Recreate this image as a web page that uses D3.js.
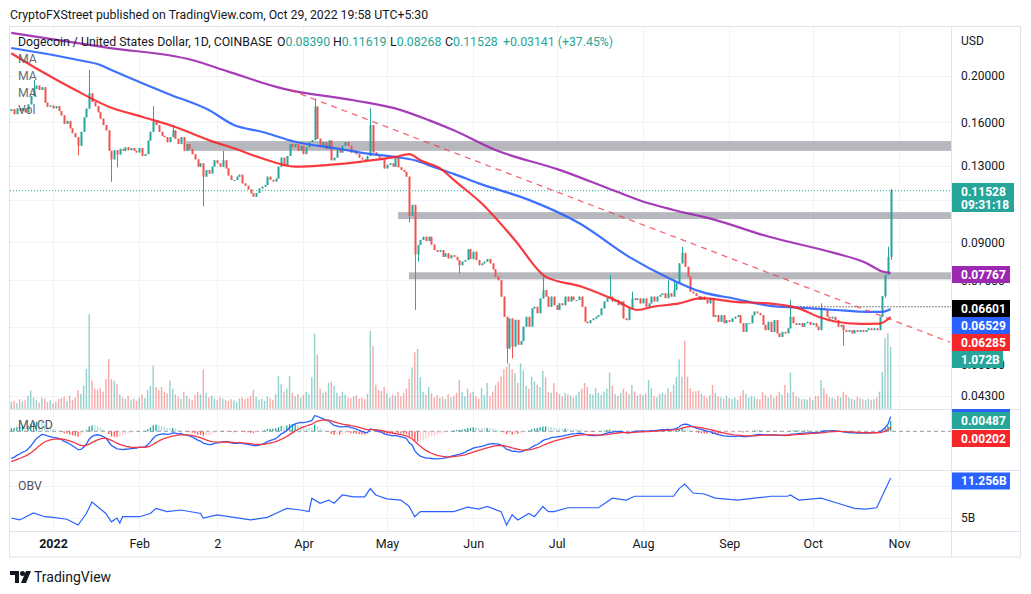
<!DOCTYPE html>
<html>
<head>
<meta charset="utf-8">
<script src="https://cdn.jsdelivr.net/npm/d3@7"></script>
<style>
  body { margin: 0; background: #fff; }
  svg text { font-family: Roboto, "Open Sans", sans-serif; }
</style>
</head>
<body>
<svg width="1031" height="594"></svg>
<script>
// ---- data (days are counted from 1 Jan 2022, negative = Dec 2021) ----
var firstDay = -15;
var firstOpen = 0.1690;
var closes = [
  0.1705,0.1665,0.1712,0.1690,0.1715,0.1680,0.1745,0.1815,0.1880,0.1910,0.1870,0.1895,0.1760,0.1725,0.1735,
  0.1712,0.1730,0.1690,0.1655,0.1590,0.1612,0.1555,0.1520,0.1490,0.1430,
  0.1530,0.1640,0.1710,0.1840,0.1765,0.1730,0.1680,0.1630,0.1580,0.1540,
  0.1396,0.1340,0.1400,0.1372,0.1410,0.1396,0.1420,0.1400,0.1415,0.1396,
  0.1385,0.1415,0.1362,0.1374,0.1467,0.1530,0.1605,0.1580,0.1530,0.1500,
  0.1491,0.1455,0.1491,0.1540,0.1480,0.1442,0.1491,0.1396,0.1442,0.1408,
  0.1374,0.1340,0.1294,0.1315,0.1233,0.1273,0.1252,0.1294,0.1334,0.1315,
  0.1294,0.1334,0.1283,0.1240,0.1214,0.1214,0.1233,0.1245,0.1194,0.1180,
  0.1160,0.1138,0.1120,0.1140,0.1165,0.1175,0.1185,0.1233,0.1214,0.1205,
  0.1222,0.1294,0.1351,0.1300,0.1362,0.1442,0.1420,0.1442,0.1396,0.1430,
  0.1374,0.1420,0.1455,0.1470,0.1727,0.1480,0.1430,0.1455,0.1408,0.1467,
  0.1334,0.1351,0.1408,0.1385,0.1430,0.1455,0.1430,0.1385,0.1396,0.1374,
  0.1351,0.1340,0.1334,0.1362,0.1580,0.1385,0.1362,0.1351,0.1340,0.1283,
  0.1305,0.1315,0.1294,0.1351,0.1290,0.1273,0.1262,0.1233,0.1022,0.1077,
  0.0849,0.0888,0.0910,0.0924,0.0905,0.0924,0.0890,0.0867,0.0860,0.0867,
  0.0839,0.0853,0.0833,0.0845,0.0839,0.0826,0.0806,0.0820,0.0826,0.0870,
  0.0830,0.0860,0.0826,0.0806,0.0813,0.0820,0.0830,0.0813,0.0790,0.0763,
  0.0750,0.0693,0.0629,0.0540,0.0624,0.0545,0.0620,0.0550,0.0560,0.0600,
  0.0629,0.0600,0.0655,0.0660,0.0640,0.0687,0.0715,0.0693,0.0660,0.0693,
  0.0665,0.0650,0.0671,0.0665,0.0693,0.0677,0.0693,0.0682,0.0682,0.0693,
  0.0660,0.0614,0.0610,0.0619,0.0624,0.0629,0.0634,0.0655,0.0677,0.0688,
  0.0693,0.0677,0.0682,0.0665,0.0677,0.0624,0.0619,0.0655,0.0687,0.0682,
  0.0687,0.0671,0.0687,0.0660,0.0671,0.0693,0.0677,0.0693,0.0699,0.0704,
  0.0688,0.0704,0.0693,0.0715,0.0739,0.0813,0.0855,0.0800,0.0763,0.0710,
  0.0704,0.0695,0.0682,0.0693,0.0682,0.0671,0.0688,0.0629,0.0634,0.0614,
  0.0634,0.0610,0.0619,0.0614,0.0624,0.0629,0.0634,0.0610,0.0585,0.0610,
  0.0610,0.0634,0.0645,0.0640,0.0634,0.0605,0.0590,0.0614,0.0585,0.0619,
  0.0581,0.0571,0.0585,0.0581,0.0595,0.0629,0.0610,0.0605,0.0610,0.0600,
  0.0610,0.0614,0.0605,0.0610,0.0600,0.0590,0.0655,0.0650,0.0629,0.0624,
  0.0629,0.0619,0.0600,0.0605,0.0590,0.0585,0.0590,0.0581,0.0590,0.0585,
  0.0590,0.0585,0.0590,0.0595,0.0590,0.0595,0.0590,0.0629,0.0695,0.0770,0.0839,0.11528
];
// volume in millions of DOGE-USD
var volumes = [
  120,140,100,170,130,150,230,320,200,150,110,200,180,120,150,
  100,130,170,190,210,140,230,160,200,330,
  260,400,690,1640,490,350,330,360,300,520,
  865,520,490,430,250,200,170,230,150,180,
  140,200,250,190,330,400,750,380,330,380,
  300,270,490,350,250,210,180,300,230,180,
  160,240,300,250,680,280,200,230,170,150,
  200,180,160,140,170,150,120,180,200,170,
  190,230,330,210,160,180,140,220,190,160,
  260,570,430,300,350,570,280,220,260,200,
  240,300,250,550,1300,940,350,280,300,450,
  470,400,280,230,300,250,200,190,220,240,
  180,200,170,260,1350,1090,420,330,310,380,
  270,200,250,230,300,220,280,350,520,720,
  980,1040,550,300,250,380,270,200,240,190,
  210,170,260,200,230,280,500,300,220,350,
  270,300,220,180,360,240,450,230,300,415,
  470,560,690,730,790,690,620,450,790,670,
  400,350,560,480,420,380,660,550,300,280,
  450,300,260,220,280,250,230,200,240,300,
  350,450,380,260,250,360,280,240,300,350,
  630,400,260,230,280,350,300,260,415,300,
  230,260,240,270,500,360,230,200,260,280,
  250,360,300,420,550,860,560,1180,560,360,
  300,310,320,260,230,200,240,415,280,220,
  200,180,230,190,170,200,160,230,330,260,
  200,230,210,180,170,290,240,200,250,190,
  230,300,250,415,280,630,300,220,200,170,
  180,160,200,150,230,220,500,360,260,200,
  190,170,230,200,300,250,200,180,160,210,
  190,170,150,180,160,170,200,300,640,1230,1315,1072
];
// visible shadows: [day, high, low]
var wicks = [
  [-7,0.1960,null],[9,null,0.1367],[13,0.2060,null],[21,null,0.1203],[23,null,0.1290],
  [36,0.1730,null],[43,0.1580,null],[54,null,0.1069],[61,0.1396,null],[94,0.1795,null],
  [114,0.1713,null],[128,null,0.0990],[130,null,0.0650],[131,null,0.0820],[146,null,0.0775],
  [163,null,0.0503],[165,null,0.0515],[176,0.0769,null],[200,0.0769,null],[208,0.0710,null],
  [221,0.0750,null],[223,0.0752,null],[226,0.0881,null],[265,0.0682,null],[276,0.0671,null],
  [284,null,0.0548],[299,null,0.0690],[300,0.0881,null],[301,0.11619,0.08268]
];

// moving averages
var maRedDays = [-15,-5,8,20,32,44,56,65,75,87,99,111,123,128,132,140,144,154,166,177,190,202,210,216,225,233,245,257,269,275,281,290,297,301];
var maRedVals = [0.2231,0.2058,0.1870,0.1726,0.1644,0.1566,0.1470,0.1413,0.1347,0.1294,0.1305,0.1326,0.1356,0.1374,0.1334,0.1273,0.1214,0.1085,0.0909,0.0763,0.0727,0.0682,0.0650,0.0661,0.0671,0.0688,0.0676,0.0671,0.0652,0.0629,0.0615,0.0608,0.0609,0.06285];
var maBlueDays = [-15,9,17,21,41,56,65,75,87,102,113,123,130,137,144,153,171,189,207,221,233,245,257,269,281,293,298,301];
var maBlueVals = [0.2288,0.2160,0.2108,0.2058,0.1839,0.1698,0.1581,0.1530,0.1458,0.1412,0.1378,0.1356,0.1334,0.1291,0.1250,0.1194,0.1103,0.0987,0.0839,0.0759,0.0709,0.0686,0.0664,0.0657,0.0650,0.0644,0.0644,0.06529];
var maPurpleDays = [-15,20,50,63,83,108,125,135,144,159,182,202,214,223,236,257,281,292,298,301];
var maPurpleVals = [0.2460,0.2290,0.2160,0.2042,0.1880,0.1780,0.1698,0.1618,0.1541,0.1402,0.1274,0.1151,0.1085,0.1051,0.1009,0.0925,0.0854,0.0816,0.0782,0.07767];

// OBV in billions
var obvDays = [-15,-12,-7,-3,0,5,9,12,14,19,21,23,24,25,31,35,37,41,46,53,54,59,65,71,77,80,84,89,92,93,96,99,101,104,108,112,114,116,120,125,128,130,132,137,144,149,153,156,161,163,165,167,169,171,173,176,178,180,185,191,196,201,206,209,215,223,225,227,230,234,238,246,252,258,264,265,268,276,282,288,292,296,301];
var obvVals = [5.0,4.7,5.8,5.2,5.1,4.8,3.9,5.7,7.5,5.7,4.4,5.0,4.2,5.2,5.2,5.7,6.5,6.0,6.25,5.7,5.0,5.5,5.1,4.7,5.1,5.7,6.5,6.25,6.0,8.1,7.3,7.8,7.3,8.6,8.3,8.3,9.6,8.6,8.0,7.8,6.8,5.2,6.0,6.0,6.0,6.7,6.4,6.8,6.0,3.9,5.5,4.7,5.2,5.7,5.2,6.8,6.0,6.0,6.6,6.6,6.6,8.1,7.8,8.4,8.4,8.4,9.6,10.3,8.9,8.75,8.1,7.8,8.1,8.4,8.4,8.6,7.8,8.1,7.3,6.5,6.4,6.6,11.256];

// MACD seed (EMA12, EMA26, signal) at the first bar
var macdSeed = [0.1726, 0.1860, -0.0144];

// drawings
var bands = [[47.8, 0.1396, 0.1463], [124, 0.1006, 0.1040], [127.9, 0.0753, 0.0779]];
var trend = [[85.2, 0.187], [322.3, 0.0557]];

var priceTicks = [0.2, 0.16, 0.13, 0.11, 0.09, 0.075, 0.06, 0.05, 0.043];
var priceLabels = [0.2, 0.16, 0.13, 0.09, 0.075, 0.05, 0.043];
var monthDays = [0, 31, 59, 90, 120, 151, 181, 212, 243, 273, 304];
var monthLabels = ["2022", "Feb", "2", "Apr", "May", "Jun", "Jul", "Aug", "Sep", "Oct", "Nov"];

// ---- layout ----
var svg = d3.select("svg");
var L = 10, R = 951, mainTop = 27, mainBot = 409, macdBot = 470, obvBot = 531, frameBot = 557;
var day0 = Date.UTC(2022, 0, 1);
function dayDate(d) { return new Date(day0 + d * 864e5); }

var x = d3.scaleUtc().domain([dayDate(0), dayDate(304)]).range([53, 899]);
var y = d3.scaleLog().domain([0.043, 0.2]).range([396, 76]);
var yVol = d3.scaleLinear().domain([0, 1000]).range([409, 351.2]);
var yMacd = d3.scaleLinear().domain([0, 0.01]).range([431.3, 409.8]);
var yObv = d3.scaleLinear().domain([5, 10]).range([518, 486]);

var up = "#26a69a", down = "#ef5350";

var defs = svg.append("defs");
defs.append("clipPath").attr("id", "cMain").append("rect").attr("x", L).attr("y", mainTop).attr("width", R - L).attr("height", mainBot - mainTop);
defs.append("clipPath").attr("id", "cMacd").append("rect").attr("x", L).attr("y", mainBot).attr("width", R - L).attr("height", macdBot - mainBot);

// title
svg.append("text").attr("x", 10).attr("y", 18.5).attr("font-size", 12.3).attr("fill", "#131722")
  .text("CryptoFXStreet published on TradingView.com, Oct 29, 2022 19:58 UTC+5:30");

// frame
svg.append("rect").attr("x", 9.5).attr("y", 26.5).attr("width", 1011).attr("height", frameBot - 26.5)
  .attr("fill", "#fff").attr("stroke", "#e0e3eb");

// grid
var grid = svg.append("g").attr("stroke", "#f0f3fa").attr("stroke-width", 1);
monthDays.forEach(function(d) {
  var gx = Math.round(x(dayDate(d))) + 0.5;
  grid.append("line").attr("x1", gx).attr("x2", gx).attr("y1", mainTop).attr("y2", obvBot);
});
priceTicks.forEach(function(p) {
  var gy = Math.round(y(p)) + 0.5;
  grid.append("line").attr("x1", L).attr("x2", R).attr("y1", gy).attr("y2", gy);
});
[10, 5].forEach(function(v) {
  var gy = Math.round(yObv(v)) + 0.5;
  grid.append("line").attr("x1", L).attr("x2", R).attr("y1", gy).attr("y2", gy);
});

// pane separators
var sep = svg.append("g").attr("stroke", "#e0e3eb");
[mainBot, macdBot, obvBot].forEach(function(s) {
  sep.append("line").attr("x1", L).attr("x2", 1020).attr("y1", s + 0.5).attr("y2", s + 0.5);
});
sep.append("line").attr("x1", R + 0.5).attr("x2", R + 0.5).attr("y1", mainTop).attr("y2", frameBot);

// candles
var candles = closes.map(function(c, i) {
  var o = i ? closes[i - 1] : firstOpen;
  return { d: i + firstDay, o: o, c: c, h: Math.max(o, c), l: Math.min(o, c), v: volumes[i] };
});
wicks.forEach(function(w) {
  var k = candles[w[0] - firstDay];
  if (w[1] != null) k.h = Math.max(k.h, w[1]);
  if (w[2] != null) k.l = Math.min(k.l, w[2]);
});

var main = svg.append("g").attr("clip-path", "url(#cMain)");

// volume
main.append("g").selectAll("rect").data(candles).enter().append("rect")
  .attr("x", function(k) { return x(dayDate(k.d)) - 0.7; })
  .attr("width", 1.4)
  .attr("y", function(k) { return yVol(k.v); })
  .attr("height", function(k) { return yVol(0) - yVol(k.v); })
  .attr("fill", function(k) { return k.c >= k.o ? up : down; })
  .attr("opacity", 0.5);

// zones
main.append("g").selectAll("rect").data(bands).enter().append("rect")
  .attr("x", function(b) { return x(dayDate(b[0])); })
  .attr("width", function(b) { return R - x(dayDate(b[0])); })
  .attr("y", function(b) { return y(b[2]); })
  .attr("height", function(b) { return y(b[1]) - y(b[2]); })
  .attr("fill", "#b7b8be");

// last price line and horizontal ray
main.append("line").attr("x1", L).attr("x2", R).attr("y1", y(0.11528)).attr("y2", y(0.11528))
  .attr("stroke", up).attr("stroke-dasharray", "1,2");
main.append("line").attr("x1", x(dayDate(268.6))).attr("x2", R).attr("y1", y(0.06601)).attr("y2", y(0.06601))
  .attr("stroke", "#000").attr("stroke-dasharray", "1,2");

var cg = main.append("g");
cg.selectAll("line").data(candles).enter().append("line")
  .attr("x1", function(k) { return Math.round(x(dayDate(k.d))) + 0.5; })
  .attr("x2", function(k) { return Math.round(x(dayDate(k.d))) + 0.5; })
  .attr("y1", function(k) { return y(k.h); })
  .attr("y2", function(k) { return y(k.l); })
  .attr("stroke", function(k) { return k.c >= k.o ? up : down; });
cg.selectAll("rect").data(candles).enter().append("rect")
  .attr("x", function(k) { return Math.round(x(dayDate(k.d))) - 0.5; })
  .attr("width", 2)
  .attr("y", function(k) { return y(Math.max(k.o, k.c)); })
  .attr("height", function(k) { return Math.max(1, Math.abs(y(k.o) - y(k.c))); })
  .attr("fill", function(k) { return k.c >= k.o ? up : down; });

// moving averages
function maLine(days, vals, color) {
  var pts = days.map(function(d, i) { return [x(dayDate(d)), y(vals[i])]; });
  main.append("path").attr("d", d3.line().curve(d3.curveMonotoneX)(pts))
    .attr("fill", "none").attr("stroke", color).attr("stroke-width", 2.2).attr("stroke-opacity", 0.9);
}
maLine(maPurpleDays, maPurpleVals, "#9c27b0");
maLine(maBlueDays, maBlueVals, "#2962ff");
maLine(maRedDays, maRedVals, "#f7262b");

// trend line
main.append("line")
  .attr("x1", x(dayDate(trend[0][0]))).attr("y1", y(trend[0][1]))
  .attr("x2", x(dayDate(trend[1][0]))).attr("y2", y(trend[1][1]))
  .attr("stroke", "#f23645").attr("stroke-width", 1.3).attr("stroke-dasharray", "6,5").attr("opacity", 0.75);

// MACD (12, 26, 9) from the closes
var k12 = 2 / 13, k26 = 2 / 27, k9 = 2 / 10;
var e12 = macdSeed[0], e26 = macdSeed[1], sig = macdSeed[2];
var macd = candles.map(function(k) {
  e12 = k.c * k12 + e12 * (1 - k12);
  e26 = k.c * k26 + e26 * (1 - k26);
  var m = e12 - e26;
  sig = m * k9 + sig * (1 - k9);
  return { d: k.d, m: m, s: sig, h: m - sig };
});
var mg = svg.append("g").attr("clip-path", "url(#cMacd)");
mg.append("line").attr("x1", L).attr("x2", R).attr("y1", yMacd(0)).attr("y2", yMacd(0))
  .attr("stroke", "#9598a1").attr("stroke-dasharray", "4,3");
mg.selectAll("rect").data(macd).enter().append("rect")
  .attr("x", function(p) { return x(dayDate(p.d)) - 0.6; })
  .attr("width", 1.3)
  .attr("y", function(p) { return Math.min(yMacd(p.h), yMacd(0)); })
  .attr("height", function(p) { return Math.abs(yMacd(p.h) - yMacd(0)); })
  .attr("fill", function(p, i) {
    var prev = i ? macd[i - 1].h : p.h;
    if (p.h >= 0) return p.h >= prev ? "#26a69a" : "#b2dfdb";
    return p.h < prev ? "#ff5252" : "#ffcdd2";
  });
mg.append("path").datum(macd)
  .attr("d", d3.line().x(function(p) { return x(dayDate(p.d)); }).y(function(p) { return yMacd(p.m); }))
  .attr("fill", "none").attr("stroke", "#2962ff").attr("stroke-width", 1.3);
mg.append("path").datum(macd)
  .attr("d", d3.line().x(function(p) { return x(dayDate(p.d)); }).y(function(p) { return yMacd(p.s); }))
  .attr("fill", "none").attr("stroke", "#f23645").attr("stroke-width", 1.3);

// OBV
svg.append("path")
  .attr("d", d3.line()(obvDays.map(function(d, i) { return [x(dayDate(d)), yObv(obvVals[i])]; })))
  .attr("fill", "none").attr("stroke", "#2962ff").attr("stroke-width", 1.2);

// price axis
var pa = svg.append("g").attr("transform", "translate(" + (R + 1) + ",0)")
  .call(d3.axisRight(y).tickValues(priceLabels).tickFormat(d3.format(".5f")).tickSize(0).tickPadding(9));
pa.select(".domain").remove();
pa.selectAll("text").attr("font-size", 12).attr("fill", "#131722").attr("font-family", "Open Sans, sans-serif");
svg.append("text").attr("x", 961).attr("y", 45).attr("font-size", 12).attr("fill", "#131722").attr("font-family", "Open Sans, sans-serif").text("USD");
svg.append("text").attr("x", 961).attr("y", yObv(5) + 4).attr("font-size", 12).attr("fill", "#131722").attr("font-family", "Open Sans, sans-serif").text("5B");

// time axis
var ta = svg.append("g").attr("transform", "translate(0," + (obvBot + 6) + ")")
  .call(d3.axisBottom(x).tickValues(monthDays.map(dayDate)).tickFormat(function(d, i) { return monthLabels[i]; }).tickSize(0).tickPadding(0));
ta.select(".domain").remove();
ta.selectAll("text").attr("font-size", 12.5).attr("fill", "#131722").attr("dy", "0.9em")
  .attr("font-family", "Open Sans, sans-serif")
  .attr("font-weight", function(d, i) { return i === 0 ? "bold" : null; });

// value badges
function badge(yc, txt, fill, w) {
  svg.append("rect").attr("x", R + 1).attr("y", yc - 8.5).attr("width", w).attr("height", 17).attr("fill", fill);
  if (txt) svg.append("text").attr("x", 961).attr("y", yc + 4.3).attr("font-size", 12).attr("font-weight", "bold")
    .attr("font-family", "Open Sans, sans-serif").attr("fill", "#fff").text(txt);
}
svg.append("rect").attr("x", R + 1).attr("y", 183).attr("width", 62).attr("height", 29).attr("fill", up);
svg.append("text").attr("x", 961).attr("y", 196).attr("font-size", 12).attr("font-weight", "bold").attr("font-family", "Open Sans, sans-serif").attr("fill", "#fff").text("0.11528");
svg.append("text").attr("x", 961).attr("y", 209).attr("font-size", 12).attr("font-weight", "bold").attr("font-family", "Open Sans, sans-serif").attr("fill", "#fff").text("09:31:18");
badge(274.5, "0.07767", "#9c27b0", 58);
badge(308.5, "0.06601", "#000", 58);
badge(325.5, "0.06529", "#2962ff", 58);
badge(342.5, "0.06285", "#f7262b", 58);
badge(359.5, "1.072B", "#26a69a", 51);
badge(417.5, "", "#2962ff", 58);
badge(420.5, "0.00487", "#26a69a", 58);
badge(438.5, "0.00202", "#f7262b", 58);
badge(481, "11.256B", "#2962ff", 58);

// legends
var lg = svg.append("text").attr("x", 18).attr("y", 46).attr("font-size", 12.3).attr("fill", "#131722");
lg.append("tspan").text("Dogecoin / United States Dollar, 1D, COINBASE");
[["O", "0.08390", 277], ["H", "0.11619", 333], ["L", "0.08268", 390], ["C", "0.11528", 445]].forEach(function(p) {
  lg.append("tspan").attr("x", p[2]).text(p[0]);
  lg.append("tspan").attr("fill", up).text(p[1]);
});
lg.append("tspan").attr("x", 503).attr("fill", up).text("+0.03141 (+37.45%)");

["MA", "MA", "MA", "Vol"].forEach(function(t, i) {
  svg.append("text").attr("x", 18).attr("y", 63 + i * 17).attr("font-size", 12.3).attr("fill", "#50535e").attr("opacity", 0.85).text(t);
});
svg.append("text").attr("x", 18).attr("y", 429).attr("font-size", 12.3).attr("fill", "#50535e").text("MACD");
svg.append("text").attr("x", 18).attr("y", 490).attr("font-size", 12.3).attr("fill", "#50535e").text("OBV");

// TradingView logo
var logo = svg.append("g").attr("fill", "#131722");
logo.append("path").attr("d", "M10,571h9v12h-4v-8h-5z");
logo.append("circle").attr("cx", 22.5).attr("cy", 573.5).attr("r", 2.5);
logo.append("path").attr("d", "M26,571h5l-5,12h-5z");
svg.append("text").attr("x", 34).attr("y", 582).attr("font-size", 14).attr("fill", "#131722").text("TradingView");
</script>
</body>
</html>
